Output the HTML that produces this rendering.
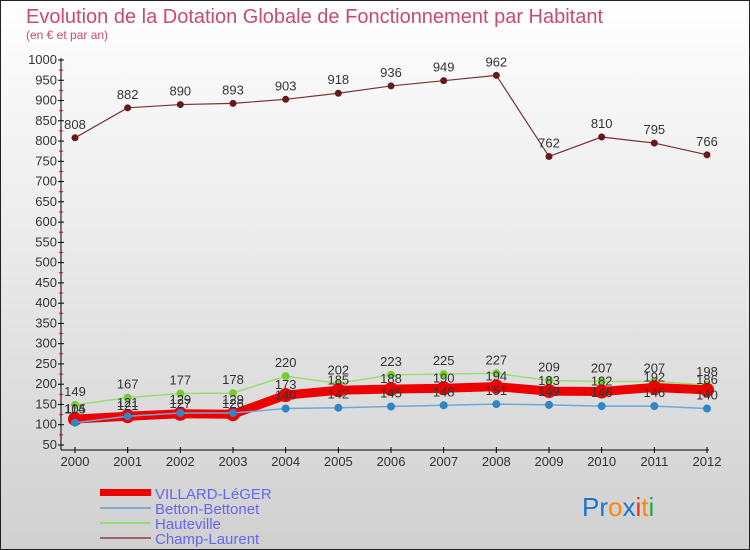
<!DOCTYPE html>
<html><head><meta charset="utf-8"><style>
body{margin:0;width:750px;height:550px;overflow:hidden;font-family:"Liberation Sans",sans-serif;}
svg{display:block}
</style></head><body>
<svg id="chart" width="750" height="550">
<defs><linearGradient id="bg" x1="0" y1="0" x2="0" y2="1"><stop offset="0" stop-color="#ffffff"/><stop offset="1" stop-color="#d0d0d0"/></linearGradient></defs>
<rect x="0.5" y="0.5" width="749" height="549" fill="url(#bg)" stroke="#222"/>
<text x="26" y="23" font-size="20" fill="#c84a72">Evolution de la Dotation Globale de Fonctionnement par Habitant</text>
<text x="26" y="39" font-size="12" fill="#c84a72">(en € et par an)</text>
<g id="axes"></g><g id="series"></g>
<g>
<rect x="100" y="489" width="51" height="7" fill="#ee0000"/>
<text x="155" y="499" font-size="15" fill="#6666ee">VILLARD-LéGER</text>
<rect x="100" y="507" width="51" height="2" fill="#7aaed0"/>
<text x="155" y="514" font-size="15" fill="#6666ee">Betton-Bettonet</text>
<rect x="100" y="522" width="51" height="2" fill="#99dd77"/>
<text x="155" y="529" font-size="15" fill="#6666ee">Hauteville</text>
<rect x="100" y="537" width="51" height="2" fill="#996666"/>
<text x="155" y="544" font-size="15" fill="#6666ee">Champ-Laurent</text>
</g>
<text x="582" y="516" font-size="26"><tspan fill="#1a77cc">Pr</tspan><tspan fill="#ff8800">o</tspan><tspan fill="#1a77cc">x</tspan><tspan fill="#ee3311">i</tspan><tspan fill="#ff8800">t</tspan><tspan fill="#22aa44">i</tspan></text>
</svg>
<script>
const years=[2000,2001,2002,2003,2004,2005,2006,2007,2008,2009,2010,2011,2012];
const villard=[114,121,127,126,173,185,188,190,194,183,182,192,186];
const betton=[105,121,129,129,140,142,145,148,151,149,146,146,140];
const hauteville=[149,167,177,178,220,202,223,225,227,209,207,207,198];
const champ=[808,882,890,893,903,918,936,949,962,762,810,795,766];
const yTicks=[50,100,150,200,250,300,350,400,450,500,550,600,650,700,750,800,850,900,950,1000];
const NS="http://www.w3.org/2000/svg";
const X=i=>75+i*(707-75)/(years.length-1);
const Y=v=>445-(v-50)*(445-60)/950;
function mk(tag,at,parent){const e=document.createElementNS(NS,tag);for(const k in at)e.setAttribute(k,at[k]);parent.appendChild(e);return e;}
const ax=document.getElementById('axes');
let l=mk('line',{x1:61,y1:58,x2:61,y2:450,stroke:'#000'},ax);


l=mk('line',{x1:61,y1:450,x2:709,y2:450,stroke:'#000'},ax);


yTicks.forEach((t,i)=>{const y=Y(t);
 mk('line',{x1:58,y1:y,x2:64,y2:y,stroke:'#000'},ax);
 if(i<yTicks.length-1) mk('line',{x1:59,y1:Y(t+25),x2:63,y2:Y(t+25),stroke:'#e00'},ax);
 const tx=mk('text',{x:57,y:y+4,'font-size':13,fill:'#333','text-anchor':'end'},ax);tx.textContent=t;
 
 
});
years.forEach((yr,i)=>{const x=X(i);
 mk('line',{x1:x,y1:447,x2:x,y2:453,stroke:'#000'},ax);
 const tx=mk('text',{x:x,y:466,'font-size':13,fill:'#333','text-anchor':'middle'},ax);tx.textContent=yr;
 
 
});
const sg=document.getElementById('series');
function series(data,name,color,w,r,dot,labelDy){
 const g=mk('g',{},sg);
 
 
 mk('polyline',{points:data.map((v,i)=>X(i)+','+Y(v)).join(' '),fill:'none',stroke:color,'stroke-width':w,'stroke-linejoin':'round'},g);
 data.forEach((v,i)=>{const c=mk('circle',{cx:X(i),cy:Y(v),r:r,fill:dot},g);
  
  
  const t=mk('text',{x:X(i),y:Y(v)+labelDy,'font-size':13,fill:'#333','text-anchor':'middle'},g);t.textContent=v;
  
  
 });
}
series(champ,'champ-laurent','#7a3333',1.2,3.5,'#661a1a',-9);
series(hauteville,'hauteville','#99dd77',1.5,4,'#77cc33',-9);
series(villard,'villard-leger','#ee0000',9,7,'#ee0000',-6);
series(betton,'betton-bettonet','#6ea8d4',1.5,4,'#2f86c6',-9);
</script>
</body></html>
